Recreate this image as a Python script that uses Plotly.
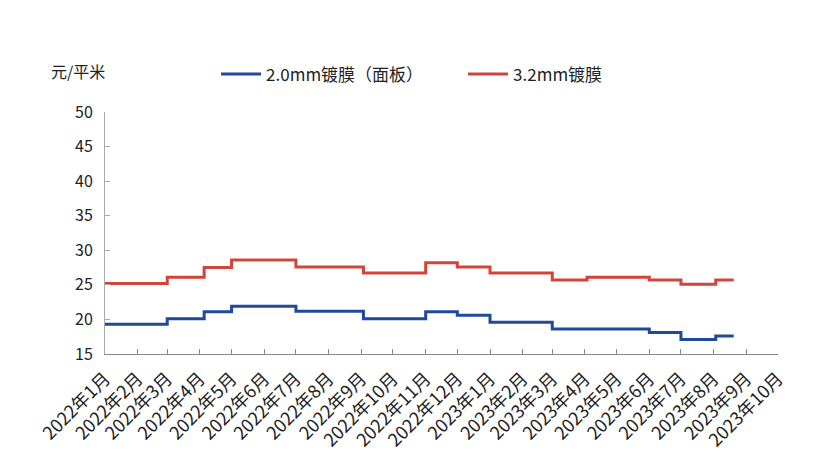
import plotly.graph_objects as go

# change dates of price (step function), last entry = end of data
dates = ["2022-01-01", "2022-03-01", "2022-04-05", "2022-05-01", "2022-07-01",
         "2022-09-03", "2022-11-01", "2022-12-01", "2023-01-01", "2023-03-01",
         "2023-04-03", "2023-06-01", "2023-07-01", "2023-08-03", "2023-08-20"]
film_2_0 = [19.3, 20.1, 21.1, 21.9, 21.2, 20.1, 21.1, 20.6, 19.6, 18.6,
            18.6, 18.1, 17.1, 17.6, 17.6]
film_3_2 = [25.2, 26.1, 27.5, 28.6, 27.6, 26.7, 28.2, 27.6, 26.7, 25.7,
            26.1, 25.7, 25.1, 25.7, 25.7]
series_names = ["2.0mm镀膜（面板）", "3.2mm镀膜"]
y_unit = "元/平米"

FONT = "Noto Sans CJK SC, Microsoft YaHei, sans-serif"

fig = go.Figure()
fig.add_trace(go.Scatter(x=dates, y=film_2_0, name=series_names[0], mode="lines",
                         line=dict(color="#1f4a9b", width=3, shape="hv")))
fig.add_trace(go.Scatter(x=dates, y=film_3_2, name=series_names[1], mode="lines",
                         line=dict(color="#d1443a", width=3, shape="hv")))

fig.update_layout(
    width=822, height=465,
    margin=dict(l=97, r=52, t=104, b=119, autoexpand=False),
    paper_bgcolor="white", plot_bgcolor="white",
    font=dict(family=FONT, size=15, color="#222"),
    showlegend=True,
    legend=dict(orientation="h", x=0.165, xanchor="left", y=1.155, yanchor="middle",
                font=dict(size=17, color="#222"), traceorder="normal",
                entrywidth=192, entrywidthmode="pixels", itemwidth=40),
    annotations=[dict(text=y_unit, xref="paper", yref="paper", x=-0.04, y=1.17,
                      xanchor="center", yanchor="middle", showarrow=False,
                      font=dict(size=16, color="#222"))],
)
fig.update_xaxes(
    type="date", range=["2022-01-01", "2023-10-01"], automargin=False,
    tick0="2022-01-01", dtick="M1", tickformat="%Y年%-m月",
    tickangle=-45, ticks="inside", ticklen=5, tickcolor="#888",
    showline=True, linecolor="#888", linewidth=1, showgrid=False, zeroline=False,
    tickfont=dict(size=18, color="#222"), ticklabelstandoff=6,
)
fig.update_yaxes(
    range=[15, 50], dtick=5, tick0=15, automargin=False,
    ticks="inside", ticklen=5, tickcolor="#aaa",
    showline=True, linecolor="#aaa", linewidth=1, showgrid=False, zeroline=False,
    tickfont=dict(size=16, color="#222"), ticklabelstandoff=8,
)

fig.write_html("out.html")
